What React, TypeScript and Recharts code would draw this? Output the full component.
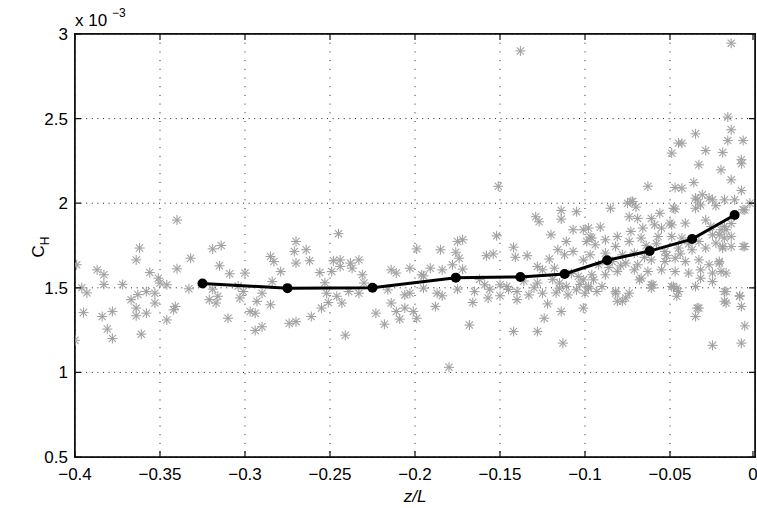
import React from "react";
import {
  ScatterChart,
  Scatter,
  XAxis,
  YAxis,
  CartesianGrid,
} from "recharts";

// bin-averaged C_H (x 10^-3) against z/L
const binZL = [-0.325, -0.275, -0.225, -0.176, -0.138, -0.112, -0.087, -0.062, -0.037, -0.012];
const binCH = [1.525, 1.498, 1.5, 1.56, 1.564, 1.582, 1.663, 1.717, 1.788, 1.93];

// individual samples [z/L, C_H x 10^-3]
const samplesFarLeft: [number, number][] = [
  [-0.399, 1.636], [-0.396, 1.5], [-0.393, 1.47], [-0.395, 1.354], [-0.4, 1.19],
  [-0.387, 1.606], [-0.383, 1.577], [-0.383, 1.52], [-0.384, 1.33], [-0.378, 1.36],
  [-0.381, 1.256], [-0.378, 1.2], [-0.372, 1.52], [-0.362, 1.735], [-0.364, 1.665],
  [-0.367, 1.43], [-0.363, 1.46], [-0.364, 1.38], [-0.364, 1.335], [-0.358, 1.35],
  [-0.361, 1.226], [-0.356, 1.59], [-0.358, 1.478], [-0.353, 1.468], [-0.353, 1.41],
  [-0.351, 1.557], [-0.35, 1.528], [-0.346, 1.518], [-0.346, 1.31], [-0.342, 1.37],
  [-0.341, 1.39], [-0.34, 1.612], [-0.34, 1.9], [-0.333, 1.494], [-0.332, 1.675],
  [-0.319, 1.73], [-0.314, 1.75], [-0.315, 1.63], [-0.309, 1.583], [-0.319, 1.492],
  [-0.321, 1.43], [-0.316, 1.45], [-0.317, 1.41], [-0.31, 1.32], [-0.304, 1.51],
  [-0.303, 1.44], [-0.3, 1.587],
];

const samplesLeft: [number, number][] = [
  [-0.301, 1.478], [-0.285, 1.685], [-0.283, 1.655], [-0.279, 1.596], [-0.284, 1.537],
  [-0.29, 1.468], [-0.293, 1.42], [-0.297, 1.36], [-0.294, 1.35], [-0.285, 1.4],
  [-0.29, 1.27], [-0.294, 1.248], [-0.274, 1.29], [-0.27, 1.3], [-0.261, 1.33],
  [-0.27, 1.774], [-0.271, 1.715], [-0.264, 1.725], [-0.27, 1.646], [-0.262, 1.66],
  [-0.256, 1.59], [-0.253, 1.53], [-0.252, 1.468], [-0.255, 1.38], [-0.251, 1.413],
  [-0.245, 1.82], [-0.248, 1.66], [-0.244, 1.665], [-0.249, 1.596], [-0.244, 1.626],
  [-0.238, 1.646], [-0.237, 1.616], [-0.233, 1.665], [-0.231, 1.577], [-0.23, 1.528],
  [-0.246, 1.45], [-0.243, 1.41], [-0.239, 1.478], [-0.233, 1.468], [-0.241, 1.22],
  [-0.223, 1.35], [-0.218, 1.285], [-0.214, 1.606], [-0.211, 1.587], [-0.203, 1.616],
  [-0.196, 1.577], [-0.199, 1.73], [-0.216, 1.488], [-0.214, 1.41], [-0.211, 1.36],
  [-0.206, 1.458], [-0.203, 1.468], [-0.206, 1.38], [-0.201, 1.36], [-0.199, 1.32],
  [-0.195, 1.498], [-0.209, 1.315],
];

const samplesMid: [number, number][] = [
  [-0.151, 2.1], [-0.129, 1.92], [-0.127, 1.89], [-0.114, 1.957], [-0.114, 1.906],
  [-0.105, 1.95], [-0.12, 1.813], [-0.107, 1.843], [-0.152, 1.807], [-0.142, 1.74],
  [-0.141, 1.68], [-0.134, 1.69], [-0.158, 1.69], [-0.154, 1.7], [-0.185, 1.725],
  [-0.175, 1.774], [-0.172, 1.784], [-0.176, 1.71], [-0.174, 1.675], [-0.191, 1.616],
  [-0.184, 1.606], [-0.178, 1.636], [-0.172, 1.61], [-0.195, 1.57], [-0.187, 1.468],
  [-0.184, 1.453], [-0.188, 1.39], [-0.175, 1.492], [-0.166, 1.413], [-0.165, 1.478],
  [-0.168, 1.28], [-0.18, 1.03], [-0.159, 1.518], [-0.156, 1.492], [-0.157, 1.44],
  [-0.15, 1.518], [-0.146, 1.508], [-0.15, 1.453], [-0.14, 1.478], [-0.14, 1.43],
  [-0.133, 1.458], [-0.125, 1.468], [-0.122, 1.405], [-0.128, 1.626], [-0.125, 1.606],
  [-0.121, 1.67], [-0.118, 1.616], [-0.128, 1.528], [-0.115, 1.528], [-0.115, 1.498],
  [-0.111, 1.508], [-0.11, 1.458], [-0.114, 1.36], [-0.124, 1.32], [-0.101, 1.38],
  [-0.142, 1.242], [-0.128, 1.242], [-0.113, 1.173], [-0.116, 1.725], [-0.111, 1.774],
  [-0.112, 1.695], [-0.107, 1.715], [-0.101, 1.665], [-0.104, 1.567], [-0.101, 1.547],
  [-0.105, 1.488], [-0.138, 2.9], [-0.119, 1.55], [-0.108, 1.585], [-0.103, 1.52],
  [-0.117, 1.47], [-0.13, 1.5], [-0.136, 1.54], [-0.145, 1.49], [-0.162, 1.55],
];

const samplesRight: [number, number][] = [
  [-0.099, 1.774], [-0.097, 1.8], [-0.094, 1.754], [-0.101, 1.843], [-0.1, 1.468],
  [-0.098, 1.508], [-0.095, 1.547], [-0.093, 1.478], [-0.049, 2.296], [-0.045, 2.355],
  [-0.063, 2.1], [-0.047, 2.093], [-0.085, 1.97], [-0.075, 2.0], [-0.072, 2.01],
  [-0.07, 1.977], [-0.074, 1.92], [-0.091, 1.859], [-0.056, 1.94], [-0.048, 1.97],
  [-0.061, 1.91], [-0.05, 1.882], [-0.078, 1.42], [-0.074, 1.468], [-0.061, 1.518],
  [-0.068, 1.547], [-0.082, 1.468], [-0.049, 1.508], [-0.045, 1.478],
  [-0.014, 2.946], [-0.016, 2.509], [-0.014, 2.434], [-0.035, 2.41], [-0.043, 2.355],
  [-0.029, 2.311], [-0.016, 2.37], [-0.007, 2.37], [-0.019, 2.3], [-0.008, 2.257],
  [-0.008, 2.233], [-0.033, 2.227], [-0.02, 2.197], [-0.014, 2.138], [-0.036, 2.122],
  [-0.043, 2.089], [-0.008, 2.075], [-0.003, 2.0], [-0.007, 1.961], [-0.012, 2.02],
  [-0.018, 2.02], [-0.023, 1.985], [-0.027, 2.03], [-0.031, 2.05], [-0.034, 2.02],
  [-0.047, 1.965], [-0.035, 1.97], [-0.029, 1.9], [-0.018, 1.862], [-0.014, 1.803],
  [-0.019, 1.744], [-0.014, 1.744], [-0.006, 1.744], [-0.017, 1.843], [-0.021, 1.813],
  [-0.023, 1.764], [-0.026, 1.862], [-0.035, 1.508], [-0.017, 1.478], [-0.018, 1.42],
  [-0.017, 1.41], [-0.009, 1.453], [-0.008, 1.39], [-0.006, 1.275], [-0.033, 1.38],
  [-0.035, 1.33], [-0.025, 1.16], [-0.008, 1.173], [-0.046, 1.45], [-0.048, 1.508],
  [-0.017, 1.587], [-0.021, 1.646], [-0.025, 1.587],
];

const samplesCore: [number, number][] = [
  [-0.073, 2.01], [-0.069, 1.91], [-0.035, 2.03], [-0.032, 1.99], [-0.025, 2.02],
  [-0.006, 1.96], [-0.014, 1.88], [-0.02, 1.843], [-0.018, 1.794], [-0.007, 1.744],
  [-0.019, 1.735], [-0.025, 1.813], [-0.041, 1.882], [-0.049, 1.872], [-0.055, 1.853],
  [-0.059, 1.872], [-0.066, 1.853], [-0.073, 1.833], [-0.081, 1.803], [-0.088, 1.784],
  [-0.098, 1.853], [-0.096, 1.794], [-0.082, 1.744], [-0.074, 1.774], [-0.067, 1.794],
  [-0.057, 1.803], [-0.049, 1.803], [-0.043, 1.794], [-0.033, 1.774], [-0.029, 1.735],
  [-0.037, 1.725], [-0.045, 1.735], [-0.053, 1.715], [-0.071, 1.705], [-0.078, 1.695],
  [-0.088, 1.705], [-0.097, 1.695], [-0.092, 1.636], [-0.084, 1.655], [-0.076, 1.646],
  [-0.069, 1.636], [-0.061, 1.665], [-0.053, 1.655], [-0.047, 1.675], [-0.041, 1.655],
  [-0.033, 1.665], [-0.027, 1.636], [-0.021, 1.655], [-0.02, 1.596], [-0.032, 1.606],
  [-0.039, 1.587], [-0.047, 1.596], [-0.055, 1.606], [-0.063, 1.596], [-0.071, 1.606],
  [-0.081, 1.596], [-0.088, 1.577], [-0.096, 1.577], [-0.098, 1.498], [-0.09, 1.508],
  [-0.082, 1.478], [-0.081, 1.42], [-0.076, 1.44], [-0.067, 1.557], [-0.06, 1.518],
  [-0.061, 1.498], [-0.046, 1.498], [-0.034, 1.38], [-0.032, 1.557], [-0.025, 1.537],
  [-0.018, 1.478], [-0.009, 1.45], [-0.064, 1.75], [-0.058, 1.76], [-0.052, 1.69],
  [-0.044, 1.7], [-0.086, 1.62], [-0.079, 1.63], [-0.065, 1.68], [-0.039, 1.76],
];

const xTicks = [-0.4, -0.35, -0.3, -0.25, -0.2, -0.15, -0.1, -0.05, 0];
const yTicks = [0.5, 1, 1.5, 2, 2.5, 3];

const X_DOMAIN: [number, number] = [-0.4, 0];
const Y_DOMAIN: [number, number] = [0.5, 3];

const lineData = binZL.map((x, i) => ({ x, y: binCH[i] }));
const scatterData = [
  ...samplesFarLeft,
  ...samplesLeft,
  ...samplesMid,
  ...samplesRight,
  ...samplesCore,
].map(([x, y]) => ({ x, y }));

const W = 757;
const H = 508;
// plot box: left 75, right 755, top 34, bottom 457
const PLOT_LEFT = 75;
const PLOT_RIGHT = 755;
const PLOT_TOP = 34;
const PLOT_BOTTOM = 457;
const TICK_LEN = 6;
const FONT = "'Liberation Sans', Arial, Helvetica, sans-serif";
const AXIS = "#111111";

const fmtX = (v: number) => (v === 0 ? "0" : "\u2212" + String(Math.abs(v)));

// x tick: label below, inward tick marks at bottom and top of the box
const XTick = (props: any) => (
  <g>
    <path
      d={`M${props.x},${PLOT_BOTTOM}v${-TICK_LEN}M${props.x},${PLOT_TOP}v${TICK_LEN}`}
      stroke={AXIS}
      strokeWidth={1.2}
      fill="none"
    />
    <text
      x={props.x}
      y={PLOT_BOTTOM + 23}
      textAnchor="middle"
      fontSize={17}
      fontFamily={FONT}
      fill="#000"
    >
      {fmtX(props.payload.value)}
    </text>
  </g>
);

// y tick: label left, inward tick marks at left and right of the box
const YTick = (props: any) => (
  <g>
    <path
      d={`M${PLOT_LEFT},${props.y}h${TICK_LEN}M${PLOT_RIGHT},${props.y}h${-TICK_LEN}`}
      stroke={AXIS}
      strokeWidth={1.2}
      fill="none"
    />
    <text
      x={PLOT_LEFT - 7}
      y={props.y + 6}
      textAnchor="end"
      fontSize={17}
      fontFamily={FONT}
      fill="#000"
    >
      {String(props.payload.value)}
    </text>
  </g>
);

// MATLAB-style '*' marker
const Asterisk = (props: any) => {
  const { cx, cy } = props;
  const r = 5;
  const d = r * 0.72;
  return (
    <g stroke="#a2a2a2" strokeWidth={1.1}>
      <line x1={cx - r} y1={cy} x2={cx + r} y2={cy} />
      <line x1={cx} y1={cy - r} x2={cx} y2={cy + r} />
      <line x1={cx - d} y1={cy - d} x2={cx + d} y2={cy + d} />
      <line x1={cx - d} y1={cy + d} x2={cx + d} y2={cy - d} />
    </g>
  );
};

const Dot = (props: any) => <circle cx={props.cx} cy={props.cy} r={5} fill="#000" />;

export default function App() {
  return (
    <div style={{ position: "absolute", left: 0, top: 0, width: W, height: H, background: "#fff" }}>
      <ScatterChart width={W} height={H} margin={{ top: 34, right: 2, bottom: 0, left: 0 }}>
        <CartesianGrid
          horizontal={true}
          vertical={false}
          stroke="#222"
          strokeWidth={1}
          strokeDasharray="1 4.6"
        />
        <CartesianGrid
          horizontal={false}
          vertical={true}
          stroke="#222"
          strokeWidth={1}
          strokeDasharray="1 7.7"
        />
        <Scatter data={scatterData} shape={Asterisk} isAnimationActive={false} />
        <Scatter
          data={lineData}
          shape={Dot}
          line={{ stroke: "#000", strokeWidth: 3 }}
          isAnimationActive={false}
        />
        <XAxis
          type="number"
          dataKey="x"
          domain={X_DOMAIN}
          ticks={xTicks}
          allowDataOverflow
          height={51}
          axisLine={false}
          tickLine={false}
          tick={<XTick />}
        />
        <YAxis
          type="number"
          dataKey="y"
          domain={Y_DOMAIN}
          ticks={yTicks}
          allowDataOverflow
          width={75}
          axisLine={false}
          tickLine={false}
          tick={<YTick />}
        />
        {/* axes box */}
        <rect
          x={PLOT_LEFT}
          y={PLOT_TOP}
          width={PLOT_RIGHT - PLOT_LEFT}
          height={PLOT_BOTTOM - PLOT_TOP}
          fill="none"
          stroke={AXIS}
          strokeWidth={1.6}
        />
        {/* axis multiplier and labels */}
        <text x={PLOT_LEFT} y={26} fontSize={17} fontFamily={FONT} fill="#000">
          x 10
        </text>
        <text x={112} y={17} fontSize={12} fontFamily={FONT} fill="#000">
          {"\u22123"}
        </text>
        <text
          x={415}
          y={H - 6}
          textAnchor="middle"
          fontSize={17}
          fontStyle="italic"
          fontFamily={FONT}
          fill="#000"
        >
          z/L
        </text>
        <text
          x={44}
          y={247}
          textAnchor="middle"
          transform="rotate(-90, 44, 247)"
          fontSize={17}
          fontFamily={FONT}
          fill="#000"
        >
          C
          <tspan fontSize={12} dy={5}>
            H
          </tspan>
        </text>
      </ScatterChart>
      {/* frame overlay in case the svg box is not painted */}
      <div
        style={{
          position: "absolute",
          left: PLOT_LEFT - 1,
          top: PLOT_TOP - 1,
          width: PLOT_RIGHT - PLOT_LEFT + 2,
          height: PLOT_BOTTOM - PLOT_TOP + 2,
          border: "1.5px solid #111",
          boxSizing: "border-box",
          pointerEvents: "none",
        }}
      />
    </div>
  );
}
